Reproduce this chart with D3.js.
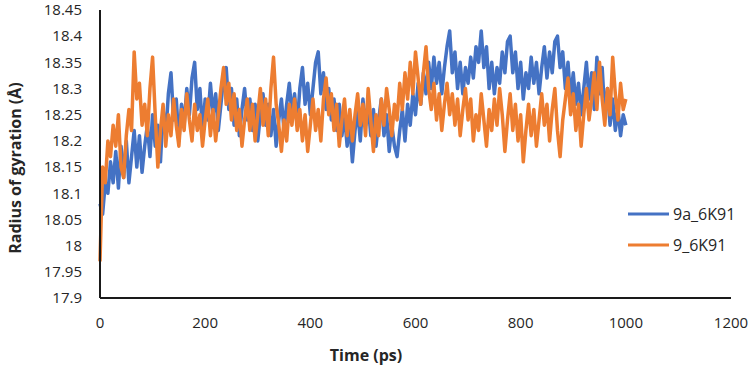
<!DOCTYPE html>
<html>
    <head>
        <meta charset="UTF-8">
        <script src="https://d3js.org/d3.v7.min.js"></script>

        <style>
            body {
                margin: 0;
                font-family: "Open Sans", Arial, sans-serif;
                background: white;
            }

            .tick-label {
                font-size: 15px;
                fill: #262626;
            }

            .axis-title {
                font-size: 16px;
                font-weight: bold;
                fill: #262626;
            }

            .axis-line {
                stroke: #1a1a1a;
                stroke-width: 2px;
            }

            .series {
                fill: none;
                stroke-width: 3.5px;
                stroke-linejoin: round;
            }

            .legend-label {
                font-size: 16px;
                fill: #262626;
            }
        </style>
    </head>
    <body>
        <svg></svg>

        <script>

            // time sampled every 5 ps
            const time = d3.range(0, 1001, 5);

            const rg9a = [
                18.08, 18.06, 18.12, 18.10, 18.16, 18.12, 18.18, 18.11, 18.19, 18.13,
                18.20, 18.12, 18.17, 18.22, 18.15, 18.21, 18.14, 18.19, 18.23, 18.17,
                18.25, 18.19, 18.23, 18.16, 18.26, 18.21, 18.29, 18.33, 18.24, 18.28,
                18.20, 18.27, 18.23, 18.30, 18.25, 18.32, 18.35, 18.26, 18.30, 18.22,
                18.28, 18.24, 18.31, 18.25, 18.29, 18.22, 18.27, 18.32, 18.34, 18.26,
                18.30, 18.23, 18.28, 18.21, 18.26, 18.30, 18.24, 18.28, 18.22, 18.27,
                18.20, 18.25, 18.29, 18.23, 18.27, 18.21, 18.26, 18.19, 18.24, 18.28,
                18.22, 18.27, 18.31, 18.25, 18.29, 18.23, 18.30, 18.34, 18.27, 18.31,
                18.25, 18.30, 18.35, 18.37, 18.29, 18.33, 18.26, 18.30, 18.24, 18.28,
                18.22, 18.27, 18.21, 18.25, 18.19, 18.23, 18.16, 18.22, 18.26, 18.20,
                18.28, 18.23, 18.27, 18.21, 18.26, 18.19, 18.24, 18.28, 18.21, 18.25,
                18.18, 18.23, 18.19, 18.17, 18.22, 18.26, 18.20, 18.27, 18.23, 18.29,
                18.25, 18.31, 18.27, 18.33, 18.29, 18.35, 18.30, 18.36, 18.31, 18.35,
                18.29, 18.34, 18.38, 18.41, 18.33, 18.37, 18.30, 18.35, 18.29, 18.34,
                18.31, 18.36, 18.32, 18.38, 18.35, 18.41, 18.34, 18.38, 18.30, 18.35,
                18.29, 18.34, 18.31, 18.37, 18.33, 18.39, 18.40, 18.33, 18.37, 18.30,
                18.35, 18.28, 18.33, 18.30, 18.36, 18.31, 18.35, 18.29, 18.34, 18.38,
                18.32, 18.37, 18.33, 18.39, 18.40, 18.34, 18.37, 18.30, 18.35, 18.28,
                18.33, 18.27, 18.31, 18.25, 18.30, 18.35, 18.28, 18.33, 18.26, 18.36,
                18.29, 18.34, 18.25, 18.30, 18.23, 18.28, 18.22, 18.26, 18.21, 18.25,
                18.23
            ];

            const rg9 = [
                17.97, 18.15, 18.12, 18.20, 18.17, 18.23, 18.19, 18.25, 18.15, 18.13,
                18.21, 18.26, 18.22, 18.37, 18.28, 18.31, 18.23, 18.27, 18.21, 18.30,
                18.36, 18.25, 18.15, 18.22, 18.27, 18.19, 18.25, 18.21, 18.28, 18.23,
                18.19, 18.26, 18.22, 18.29, 18.24, 18.20, 18.27, 18.22, 18.25, 18.19,
                18.24, 18.28, 18.21, 18.26, 18.20, 18.25, 18.30, 18.34, 18.27, 18.31,
                18.24, 18.29, 18.22, 18.26, 18.19, 18.24, 18.28, 18.22, 18.27, 18.20,
                18.25, 18.30, 18.23, 18.28, 18.21, 18.30, 18.36, 18.27, 18.23, 18.18,
                18.24, 18.20, 18.27, 18.23, 18.28, 18.22, 18.26, 18.20, 18.25, 18.18,
                18.23, 18.28, 18.22, 18.26, 18.20, 18.28, 18.32, 18.25, 18.29, 18.22,
                18.27, 18.19, 18.24, 18.28, 18.21, 18.26, 18.20, 18.25, 18.29, 18.23,
                18.27, 18.21, 18.30, 18.24, 18.18, 18.25, 18.21, 18.28, 18.23, 18.30,
                18.26, 18.21, 18.27, 18.24, 18.31, 18.26, 18.33, 18.28, 18.35, 18.29,
                18.37, 18.32, 18.27, 18.33, 18.38, 18.30, 18.26, 18.31, 18.24, 18.29,
                18.22, 18.27, 18.31, 18.25, 18.29, 18.23, 18.28, 18.21, 18.26, 18.30,
                18.24, 18.28, 18.20, 18.25, 18.22, 18.29, 18.24, 18.19, 18.26, 18.22,
                18.28, 18.23, 18.30, 18.25, 18.18, 18.24, 18.29, 18.22, 18.27, 18.20,
                18.25, 18.16, 18.22, 18.27, 18.21, 18.26, 18.19, 18.24, 18.29, 18.23,
                18.27, 18.20, 18.26, 18.30, 18.22, 18.17, 18.24, 18.28, 18.32, 18.25,
                18.29, 18.22, 18.27, 18.19, 18.25, 18.30, 18.24, 18.28, 18.33, 18.26,
                18.35, 18.28, 18.23, 18.30, 18.25, 18.36, 18.29, 18.24, 18.31, 18.26,
                18.28
            ];

            const seriesNames = ["9a_6K91", "9_6K91"];
            const seriesColors = ["#4472C4", "#ED7D31"];
            const xTicks = [0, 200, 400, 600, 800, 1000, 1200];
            const yTicks = [17.9, 17.95, 18, 18.05, 18.1, 18.15, 18.2, 18.25, 18.3, 18.35, 18.4, 18.45];

            function drawGraph () {
                const width = 751,
                    height = 373,
                    left = 100,
                    right = 731,
                    top = 10,
                    bottom = 298;

                const svg = d3.select("svg")
                    .attr("width", width)
                    .attr("height", height);

                const x = d3.scaleLinear()
                    .domain([0, 1200])
                    .range([left, right]);

                const y = d3.scaleLinear()
                    .domain([17.9, 18.45])
                    .range([bottom, top]);

                // tick labels
                svg.append("g")
                    .selectAll("text")
                    .data(yTicks)
                    .join("text")
                        .attr("class", "tick-label")
                        .attr("x", left - 18)
                        .attr("y", d => y(d))
                        .attr("dy", "0.35em")
                        .attr("text-anchor", "end")
                        .text(d => d3.format("~g")(d));

                svg.append("g")
                    .selectAll("text")
                    .data(xTicks)
                    .join("text")
                        .attr("class", "tick-label")
                        .attr("x", d => x(d))
                        .attr("y", bottom + 30)
                        .attr("text-anchor", "middle")
                        .text(d => d);

                // series
                const line = d3.line()
                    .x((d, i) => x(time[i]))
                    .y(d => y(d));

                [rg9a, rg9].forEach((values, k) => {
                    svg.append("path")
                        .attr("class", "series")
                        .attr("stroke", seriesColors[k])
                        .attr("d", line(values));
                });

                // axes
                svg.append("line")
                    .attr("class", "axis-line")
                    .attr("x1", left).attr("x2", left)
                    .attr("y1", top).attr("y2", bottom);

                svg.append("line")
                    .attr("class", "axis-line")
                    .attr("x1", left).attr("x2", right)
                    .attr("y1", bottom).attr("y2", bottom);

                // axis titles
                svg.append("text")
                    .attr("class", "axis-title")
                    .attr("x", 366)
                    .attr("y", 361)
                    .attr("text-anchor", "middle")
                    .text("Time (ps)");

                svg.append("text")
                    .attr("class", "axis-title")
                    .attr("transform", "translate(21, 168) rotate(-90)")
                    .attr("text-anchor", "middle")
                    .text("Radius of gyration (Å)");

                // legend
                const legend = svg.append("g")
                    .selectAll("g")
                    .data(seriesNames)
                    .join("g")
                        .attr("transform", (d, i) => `translate(628, ${214 + i * 31})`);

                legend.append("line")
                    .attr("x1", 0).attr("x2", 41)
                    .attr("stroke", (d, i) => seriesColors[i])
                    .attr("stroke-width", 3);

                legend.append("text")
                    .attr("class", "legend-label")
                    .attr("x", 45)
                    .attr("dy", "0.35em")
                    .text(d => d);
            }

            drawGraph();

        </script>
    </body>
</html>
